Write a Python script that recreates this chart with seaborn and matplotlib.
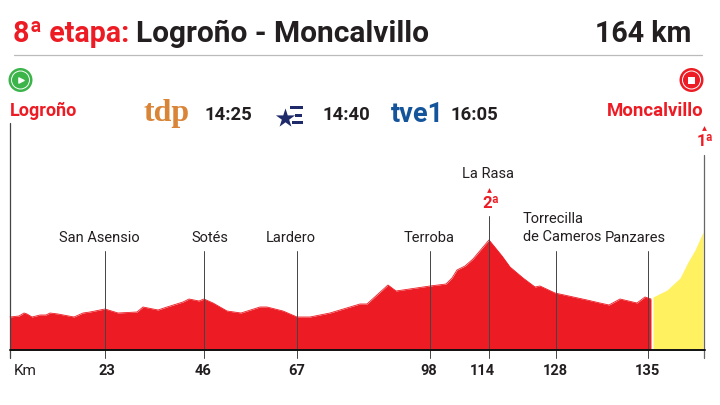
import seaborn as sns
import matplotlib.pyplot as plt
from matplotlib.patches import Circle, Rectangle

# stage profile, x = position along the drawn route, y = height above the baseline
RED_X = [10, 19, 24, 27, 32, 40, 46, 50, 58, 74, 83, 90, 105, 118, 137, 143, 158, 167, 183, 189, 199, 204,
         213, 227, 241, 260, 267, 283, 297, 310, 330, 360, 367, 388, 396, 430, 446, 452, 457, 465, 473, 489,
         502, 510, 523, 535, 540, 555, 587, 600, 609, 620, 637, 645, 651]
RED_Y = [33, 34, 37, 36, 33, 35, 35, 37, 36, 33, 37, 38, 41, 37, 38, 43, 40, 43, 48, 51, 49, 51,
         47, 39, 37, 43, 43, 39, 33, 33, 37, 46, 46, 65, 59, 64, 66, 72, 80, 84, 91, 110,
         94, 83, 72, 63, 64, 57, 50, 47, 45, 51, 47, 53, 51]
YELLOW_X = [653, 667, 680, 688, 695, 703]
YELLOW_Y = [53, 60, 72, 88, 100, 118]

KM_POS = [105, 204, 297, 430, 489, 556, 648]
KM_LABELS = ['23', '46', '67', '98', '114', '128', '135']
KM_LABEL_POS = [107, 203, 297, 429, 482, 555, 647]
TOWNS = ['San Asensio', 'Sotés', 'Lardero', 'Terroba', 'La Rasa', 'Panzares']
TOWN_POS = [99, 210, 291, 429, 488, 635]
TOWN_Y = [112, 112, 112, 112, 176, 112]
POLE_TOP = [99, 99, 99, 99, 134, 99, 99]

RED = '#ed1c24'
YELLOW = '#fff15f'
DARK = '#231f20'

sns.set_theme(style='white')
plt.rcParams['font.family'] = ['Roboto', 'DejaVu Sans']

fig = plt.figure(figsize=(7.2, 4.05), dpi=100)
ax = fig.add_axes([0, 0, 1, 1])
ax.set_xlim(0, 720)
ax.set_ylim(-55, 350)
ax.axis('off')

ax.fill_between(RED_X, 0, RED_Y, color=RED, lw=0, zorder=2)
ax.fill_between(YELLOW_X, 1, YELLOW_Y, color=YELLOW, lw=0, zorder=2)
sns.lineplot(x=RED_X, y=RED_Y, color=RED, lw=0.6, ax=ax, zorder=2)

# baseline and poles
ax.plot([10, 705], [0, 0], color='#111111', lw=1.4, zorder=4)
ax.plot([10, 10], [-8, 227], color='#444444', lw=0.9, zorder=3)
ax.plot([704, 704], [-8, 195], color='#666666', lw=0.9, zorder=3)
for pos, top in zip(KM_POS, POLE_TOP):
    ax.plot([pos, pos], [-8, top], color='#444444', lw=0.7, zorder=3)

for name, pos, y in zip(TOWNS, TOWN_POS, TOWN_Y):
    ax.text(pos, y, name, fontsize=10.5, color=DARK, ha='center', va='center')
ax.text(523, 122, 'Torrecilla\nde Cameros', fontsize=10.5, color=DARK, ha='left', va='center', linespacing=1.3)

ax.text(14, -21, 'Km', fontsize=11, color=DARK, ha='left', va='center')
for pos, lab in zip(KM_LABEL_POS, KM_LABELS):
    ax.text(pos, -21, lab, fontsize=10.5, fontweight='bold', color=DARK, ha='center', va='center')

# title
ax.text(13, 316, '8ª etapa:', fontsize=20.6, fontweight='bold', color=RED, ha='left', va='center')
ax.text(136, 316, 'Logroño - Moncalvillo', fontsize=21.5, fontweight='bold', color=DARK, ha='left', va='center')
ax.text(691, 316, '164 km', fontsize=20.6, fontweight='bold', color=DARK, ha='right', va='center')
ax.plot([14, 702], [295, 295], color='#bbbbbb', lw=0.9)

# start and finish icons
ax.add_patch(Circle((20.5, 270), 12, color='#3bb44a', lw=0))
ax.add_patch(Circle((20.5, 270), 9, fill=False, ec='white', lw=0.7))
ax.scatter([21], [270], marker='>', s=14, color='white', zorder=5)
ax.add_patch(Circle((691.5, 270), 12, color=RED, lw=0))
ax.add_patch(Circle((691.5, 270), 9, fill=False, ec='white', lw=0.7))
ax.add_patch(Rectangle((688, 266.5), 7, 7, color='white', lw=0, zorder=5))

ax.text(10, 239, 'Logroño', fontsize=13, fontweight='bold', color=RED, ha='left', va='center')
ax.text(704, 239, 'Moncalvillo', fontsize=13.4, fontweight='bold', color=RED, ha='right', va='center')

# broadcasters
ax.text(144, 236, 'tdp', fontsize=23, fontweight='bold', color='#d98436', family='Liberation Serif', ha='left', va='center')
ax.text(205, 235, '14:25', fontsize=13.3, fontweight='bold', color=DARK, ha='left', va='center')
ax.scatter([285], [232], marker='*', s=210, color='#1f2a6b', lw=0, zorder=3)
ax.add_patch(Rectangle((290, 241.5), 13, 3, color='#1f2a6b', lw=0))
ax.add_patch(Rectangle((295, 233.5), 7, 3, color='#1f2a6b', lw=0))
ax.add_patch(Rectangle((292, 226), 11, 3, color='#1f2a6b', lw=0))
ax.text(322, 235, '14:40', fontsize=13.3, fontweight='bold', color=DARK, ha='left', va='center')
ax.text(391, 236, 'tve1', fontsize=19.5, fontweight='bold', color='#14549b', ha='left', va='center')
ax.text(450, 235, '16:05', fontsize=13.3, fontweight='bold', color=DARK, ha='left', va='center')

# climb categories
ax.scatter([489], [160], marker='^', s=12, color=RED, lw=0, zorder=5)
ax.text(491, 146, '2ª', fontsize=12, fontweight='bold', color=RED, ha='center', va='center')
ax.scatter([704], [222], marker='^', s=12, color=RED, lw=0, zorder=5)
ax.text(705.5, 209, '1ª', fontsize=12, fontweight='bold', color=RED, ha='center', va='center')

fig.savefig('out.png', dpi=100)
